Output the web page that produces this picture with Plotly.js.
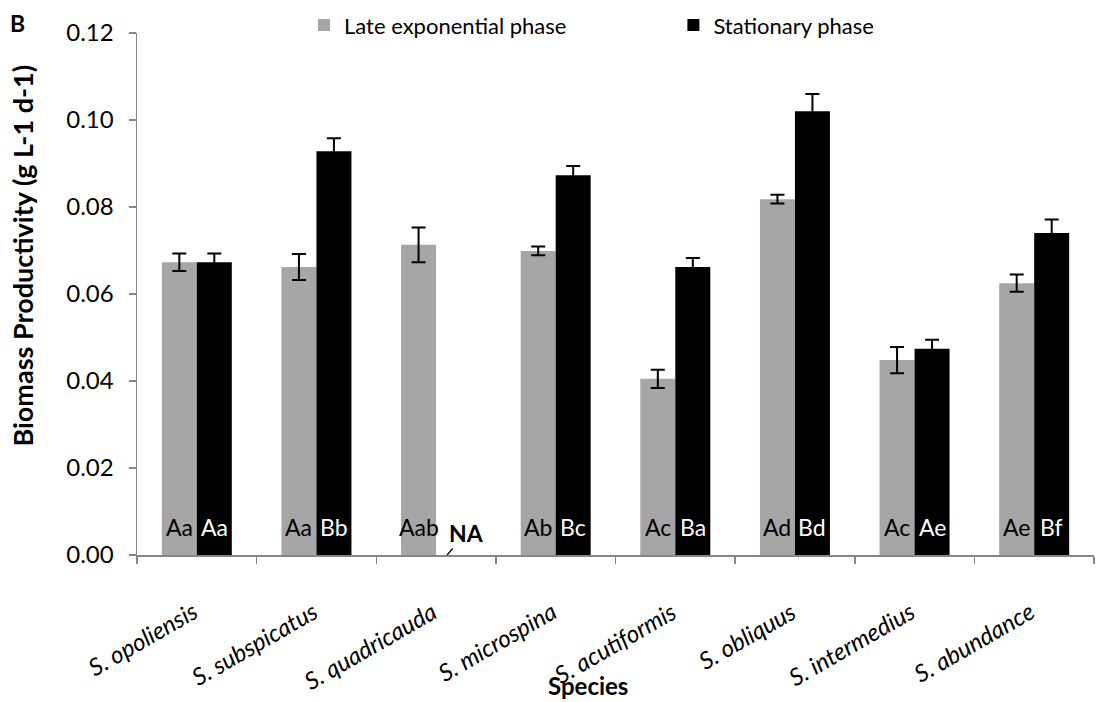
<!DOCTYPE html>
<html>
<head>
<meta charset="utf-8">
<script src="https://cdn.plot.ly/plotly-3.0.1.min.js"></script>
<style>html,body{margin:0;padding:0;background:#fff;}#chart{width:1100px;height:702px;}</style>
</head>
<body>
<div id="chart"></div>
<script>
const species = ['S. opoliensis','S. subspicatus','S. quadricauda','S. microspina','S. acutiformis','S. obliquus','S. intermedius','S. abundance'];
const lateExp = [0.0673, 0.0662, 0.0713, 0.0699, 0.0405, 0.0818, 0.0448, 0.0625];
const lateExpErr = [0.0020, 0.0030, 0.0040, 0.0010, 0.0021, 0.0010, 0.0030, 0.0020];
const stationary = [0.0673, 0.0928, null, 0.0873, 0.0662, 0.1020, 0.0474, 0.0740];
const stationaryErr = [0.0020, 0.0030, null, 0.0021, 0.0021, 0.0040, 0.0021, 0.0031];
const lateLetters = ['Aa','Aa','Aab','Ab','Ac','Ad','Ac','Ae'];
const statLetters = ['Aa','Bb','','Bc','Ba','Bd','Ae','Bf'];
const yTicks = [0, 0.02, 0.04, 0.06, 0.08, 0.10, 0.12];
const yTickText = ['0.00','0.02','0.04','0.06','0.08','0.10','0.12'];

const FONT = 'Lato, "Open Sans", sans-serif';
const GRAY = '#A6A6A6';
const AXIS = '#868686';
const BARGAP = 0.415;
const off = (1 - BARGAP) / 4;

const traces = [
  {type:'bar', name:'Late exponential phase', x:species, y:lateExp, legend:'legend',
   marker:{color:GRAY}, error_y:{type:'data', array:lateExpErr, visible:true, color:'#000', thickness:2, width:7}},
  {type:'bar', name:'Stationary phase', x:species, y:stationary, legend:'legend2',
   marker:{color:'#000'}, error_y:{type:'data', array:stationaryErr, visible:true, color:'#000', thickness:2, width:7}}
];

const annotations = [];
species.forEach((s, i) => {
  if (lateLetters[i]) annotations.push({x:i - off, y:0, xref:'x', yref:'y', text:lateLetters[i], showarrow:false,
    yanchor:'bottom', yshift:12, font:{family:FONT, size:23, color:'#000'}});
  if (statLetters[i]) annotations.push({x:i + off, y:0, xref:'x', yref:'y', text:statLetters[i], showarrow:false,
    yanchor:'bottom', yshift:12, font:{family:FONT, size:23, color:'#fff'}});
  annotations.push({x:i, y:0, xref:'x', yref:'y', text:s, showarrow:false, textangle:-30,
    xanchor:'right', yanchor:'top', xshift:8, yshift:-38,
    font:{family:FONT, size:24, style:'italic', color:'#000'}});
});
annotations.push({x:2 + 0.092, y:0, xref:'x', yref:'y', text:'<b>NA</b>', showarrow:true, arrowhead:0,
  arrowwidth:1.2, arrowcolor:'#000', ax:19, ay:-22, font:{family:FONT, size:23, color:'#000'}});
annotations.push({x:-0.125, y:1.02, xref:'paper', yref:'paper', text:'<b>B</b>', showarrow:false,
  xanchor:'center', yanchor:'middle', font:{family:FONT, size:23, color:'#000'}});
annotations.push({x:-0.12, y:0.574, xref:'paper', yref:'paper', text:'<b>Biomass Productivity (g L-1 d-1)</b>', showarrow:false,
  textangle:-90, xanchor:'center', yanchor:'middle', font:{family:FONT, size:27, color:'#000'}});
annotations.push({x:0.471, y:-0.2808, xref:'paper', yref:'paper', text:'<b>Species</b>', showarrow:false,
  xanchor:'center', yanchor:'bottom', font:{family:FONT, size:24, color:'#000'}});

const legendBase = {orientation:'h', xanchor:'left', y:1.015, yanchor:'middle',
  font:{family:FONT, size:22, color:'#000'}, bgcolor:'rgba(0,0,0,0)', borderwidth:0};

const layout = {
  width:1100, height:702,
  margin:{l:137, r:6, t:33, b:147, pad:0, autoexpand:false},
  paper_bgcolor:'#fff', plot_bgcolor:'#fff',
  barmode:'group', bargap:BARGAP, bargroupgap:0,
  font:{family:FONT, size:22, color:'#000'},
  showlegend:true,
  legend:Object.assign({}, legendBase, {x:0.1745}),
  legend2:Object.assign({}, legendBase, {x:0.5605}),
  xaxis:{type:'category', range:[-0.5, 7.5], showline:true, linecolor:AXIS, linewidth:1.5,
    ticks:'outside', tickson:'boundaries', ticklen:7, tickcolor:AXIS, tickwidth:1.5,
    showticklabels:false, showgrid:false, zeroline:false, fixedrange:true},
  yaxis:{range:[0, 0.12], tickvals:yTicks, ticktext:yTickText, showline:true, linecolor:AXIS, linewidth:1.5,
    ticks:'outside', ticklen:7, tickcolor:AXIS, tickwidth:1.5, showgrid:false, zeroline:false,
    tickfont:{family:FONT, size:24, color:'#000'}, ticklabelstandoff:10, fixedrange:true},
  annotations:annotations
};

Plotly.newPlot('chart', traces, layout, {displayModeBar:false, staticPlot:true});
</script>
</body>
</html>
